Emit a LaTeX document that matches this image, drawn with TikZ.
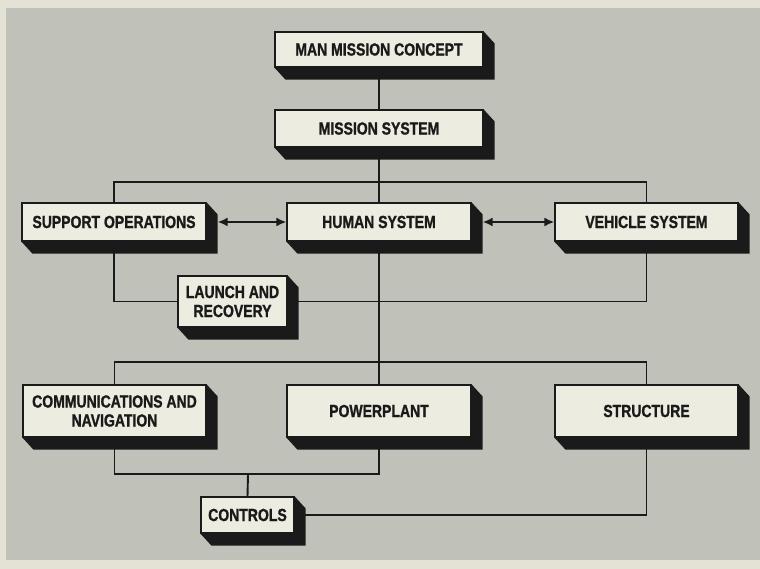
\documentclass[tikz,border=0pt]{standalone}
\usepackage{fontspec}
\newfontfamily\lblfont{Liberation Sans}[FakeStretch=0.8,BoldFeatures={FakeBold=1.2}]
\usetikzlibrary{arrows.meta,backgrounds,calc}
\definecolor{bgpaper}{HTML}{E4E2D4}
\definecolor{bggray}{HTML}{C0C1B9}
\definecolor{facecol}{HTML}{ECECE0}
\definecolor{inkcol}{HTML}{1A1A1A}
\begin{document}
\begin{tikzpicture}[x=1pt,y=-1pt,
  box/.style={draw=inkcol,line width=1.2pt,fill=facecol,inner sep=0pt,
    minimum width=#1,align=center,text=inkcol,
    font=\lblfont\bfseries\fontsize{17.5}{19}\selectfont},
  link/.style={draw=inkcol,line width=1.9pt},
  twoway/.style={link,line width=2.2pt,{Latex[length=10pt,width=9pt]}-{Latex[length=10pt,width=9pt]}}]
\useasboundingbox (0,0) rectangle (760,569);

\node[box=208pt,minimum height=35pt] (mmc) at (379,49.5) {MAN MISSION CONCEPT};
\node[box=208pt,minimum height=37pt] (ms) at (379,128.5) {MISSION SYSTEM};
\node[box=184pt,minimum height=38pt] (so) at (114,222) {SUPPORT OPERATIONS};
\node[box=184pt,minimum height=38pt] (hs) at (379,222) {HUMAN SYSTEM};
\node[box=183pt,minimum height=38pt] (vs) at (646.5,222) {VEHICLE SYSTEM};
\node[box=109pt,minimum height=51pt] (lr) at (232.5,301.5) {LAUNCH AND\\RECOVERY};
\node[box=183pt,minimum height=52pt] (cn) at (114.5,411) {COMMUNICATIONS AND\\NAVIGATION};
\node[box=184pt,minimum height=52pt] (pp) at (379,411) {POWERPLANT};
\node[box=183pt,minimum height=52pt] (st) at (646.5,411) {STRUCTURE};
\node[box=93pt,minimum height=36pt] (ct) at (247.5,515) {CONTROLS};

\foreach \n in {mmc,ms,so,hs,vs,lr,cn,pp,st,ct}{
  \fill[inkcol] (\n.north east) -- ($(\n.north east)+(11,12)$) -- ($(\n.south east)+(11,12)$)
    -- ($(\n.south west)+(11,12)$) -- (\n.south west) -- (\n.south east) -- cycle;
}

\coordinate (bar1) at (379,182);
\coordinate (bar2) at (379,362);
\coordinate (join) at (248,474);

\begin{scope}[on background layer]
\fill[bgpaper] (0,0) rectangle (760,569);
\fill[bggray] (6,8) rectangle (760,560);
\draw[link] (mmc.south) -- (ms.north);
\draw[link] (ms.south) -- (hs.north);
\draw[link] (so.north) |- (bar1) -| (vs.north);
\draw[link] (so.south) |- (lr.west);
\draw[link] (vs.south) |- (lr.east);
\draw[link] (hs.south) -- (pp.north);
\draw[link] (cn.north) |- (bar2) -| (st.north);
\draw[link] (cn.south) |- (join) -| (pp.south);
\draw[link] (join) -- (ct.north);
\draw[link] (st.south) |- (ct.east);
\end{scope}
\draw[twoway] ([xshift=11pt]so.east) -- (hs.west);
\draw[twoway] ([xshift=11pt]hs.east) -- (vs.west);
\end{tikzpicture}
\end{document}
